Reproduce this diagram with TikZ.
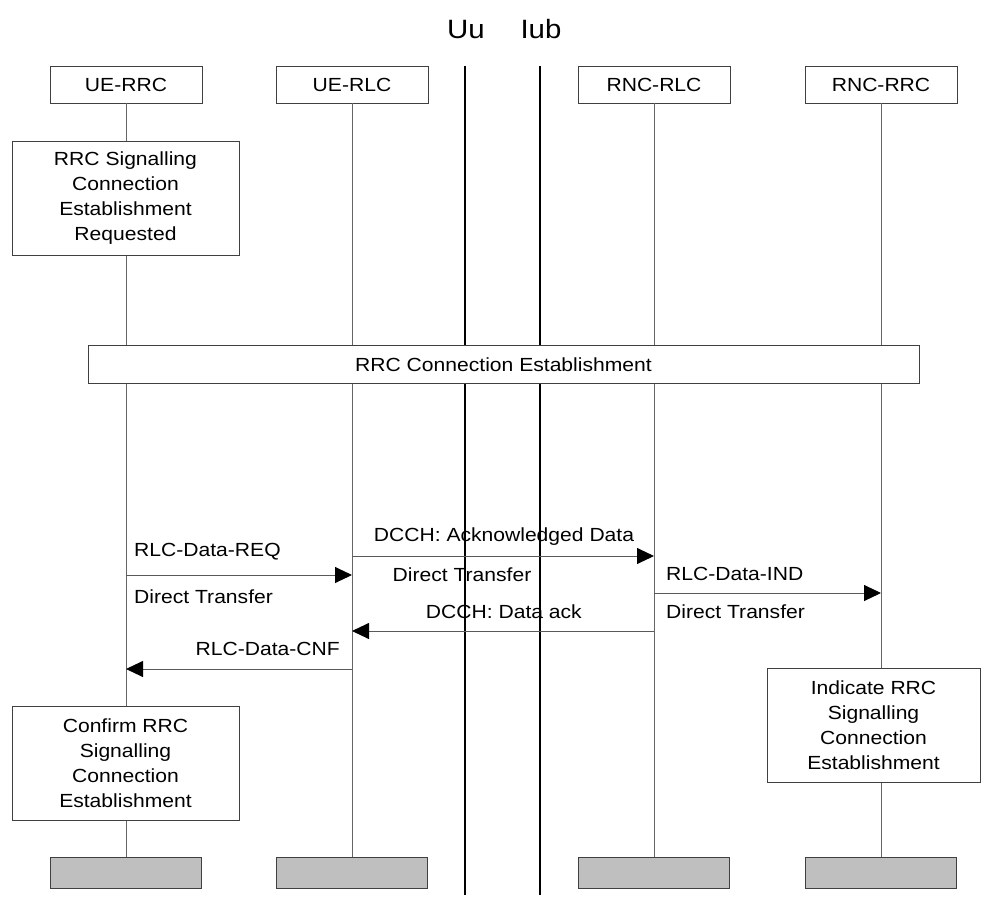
\documentclass[tikz,border=0pt]{standalone}
\usepackage{fontspec}
\setmainfont[FakeStretch=1.11]{Liberation Sans}
\usetikzlibrary{arrows.meta}
\begin{document}
\begin{tikzpicture}[x=1pt,y=-1pt,
  font=\fontsize{19}{25}\selectfont,
  entity/.style={draw=black!75, line width=0.8pt, minimum width=152pt, minimum height=37pt, inner sep=0pt, fill=white},
  endbox/.style={draw=black!75, line width=0.8pt, minimum width=151pt, minimum height=31pt, inner sep=0pt, fill=black!25},
  actbox/.style={draw=black!75, line width=0.8pt, fill=white, align=center, inner sep=0pt},
  life/.style={draw=black!60, line width=0.9pt},
  iface/.style={draw=black, line width=2.4pt},
  msg/.style={draw=black!65, line width=0.9pt, -{Triangle[length=17pt,width=16pt,color=black]}},
  lbl/.style={inner sep=0pt},
  ifl/.style={font=\fontsize{26.5}{30}\selectfont, anchor=base, inner sep=0pt}
]
\useasboundingbox (0,0) rectangle (982,899);

% headers
\node[entity] (h1) at (126,84.5) {UE-RRC};
\node[entity] (h2) at (352,84.5) {UE-RLC};
\node[entity] (h3) at (654,84.5) {RNC-RLC};
\node[entity] (h4) at (881,84.5) {RNC-RRC};

% footers
\node[endbox] (f1) at (126,872.5) {};
\node[endbox] (f2) at (352,872.5) {};
\node[endbox] (f3) at (654,872.5) {};
\node[endbox] (f4) at (881,872.5) {};

% lifelines
\draw[life] (h1) -- (f1);
\draw[life] (h2) -- (f2);
\draw[life] (h3) -- (f3);
\draw[life] (h4) -- (f4);

% interfaces
\node[ifl] (uu) at (466,39) {Uu};
\node[ifl] (iub) at (541,39) {Iub};
\coordinate (uut) at (465,66);
\coordinate (uub) at (465,895);
\coordinate (iubt) at (540,66);
\coordinate (iubb) at (540,895);
\draw[iface] (uut) -- (uub);
\draw[iface] (iubt) -- (iubb);

% activity boxes
\node[actbox, minimum width=227pt, minimum height=114pt] (req) at (125.5,198)
  {RRC Signalling\\Connection\\Establishment\\Requested};
\node[actbox, minimum width=831pt, minimum height=38pt] (est) at (503.5,364.5)
  {RRC Connection Establishment};
\node[actbox, minimum width=227pt, minimum height=114pt] (conf) at (125.5,763)
  {Confirm RRC\\Signalling\\Connection\\Establishment};
\node[actbox, minimum width=213pt, minimum height=114pt] (ind) at (873.5,725)
  {Indicate RRC\\Signalling\\Connection\\Establishment};

% message levels
\coordinate (m1) at (0,575);
\coordinate (m2) at (0,556);
\coordinate (m3) at (0,593);
\coordinate (m4) at (0,631);
\coordinate (m5) at (0,669);

\draw[msg] (h1 |- m1) -- (h2 |- m1);
\draw[msg] (h2 |- m2) -- (h3 |- m2);
\draw[msg] (h3 |- m3) -- (h4 |- m3);
\draw[msg] (h3 |- m4) -- (h2 |- m4);
\draw[msg] (h2 |- m5) -- (h1 |- m5);

% labels
\node[lbl, anchor=west] (l1a) at (134,552) {RLC-Data-REQ};
\node[lbl, anchor=west] (l1b) at (134,597) {Direct Transfer};
\node[lbl] (l2a) at (504,537) {DCCH: Acknowledged Data};
\node[lbl] (l2b) at (462,575) {Direct Transfer};
\node[lbl, anchor=west] (l3a) at (666,574) {RLC-Data-IND};
\node[lbl, anchor=west] (l3b) at (666,612) {Direct Transfer};
\node[lbl, anchor=east] (l4a) at (582,612) {DCCH: Data ack};
\node[lbl, anchor=east] (l5a) at (340,649) {RLC-Data-CNF};
\end{tikzpicture}
\end{document}
